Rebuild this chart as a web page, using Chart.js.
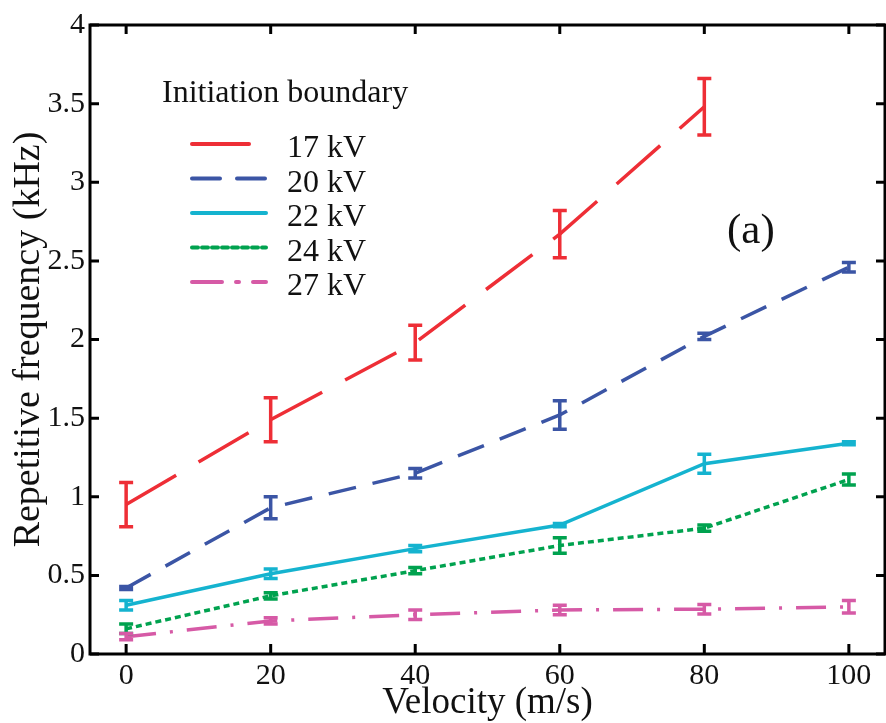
<!DOCTYPE html>
<html>
<head>
<meta charset="utf-8">
<script src="https://cdn.jsdelivr.net/npm/chart.js@4.4.1/dist/chart.umd.min.js"></script>
<style>
  html, body { margin: 0; padding: 0; background: #fff; }
  #wrap { width: 886px; height: 723px; }
</style>
</head>
<body>
<div id="wrap"><canvas id="freqChart"></canvas></div>
<script>
// Values
const velocity = [0, 20, 40, 60, 80, 100];
const xTicks = [0, 20, 40, 60, 80, 100];
const yTicks = [0, 0.5, 1, 1.5, 2, 2.5, 3, 3.5, 4];

const f17 = [0.95, 1.49, 1.98, 2.67, 3.48, null];
const e17 = [0.14, 0.14, 0.11, 0.15, 0.18, null];
const f20 = [0.42, 0.93, 1.15, 1.52, 2.02, 2.46];
const e20 = [0.01, 0.07, 0.03, 0.09, 0.02, 0.03];
const f22 = [0.31, 0.51, 0.67, 0.82, 1.21, 1.34];
const e22 = [0.03, 0.03, 0.02, 0.01, 0.06, 0.01];
const f24 = [0.16, 0.37, 0.53, 0.69, 0.80, 1.11];
const e24 = [0.03, 0.02, 0.02, 0.05, 0.02, 0.035];
const f27 = [0.11, 0.21, 0.25, 0.28, 0.285, 0.30];
const e27 = [0.02, 0.02, 0.03, 0.03, 0.03, 0.04];

const seriesLabels = ['17 kV', '20 kV', '22 kV', '24 kV', '27 kV'];
const legendTitle = 'Initiation boundary';
const panelLabel = '(a)';

const serif = '"Liberation Serif", "Times New Roman", serif';

function pts(vals) {
    return velocity.map((v, i) => ({ x: v, y: vals[i] }));
}

const styles = [
    { color: '#ee2e36', dash: [58, 26] },
    { color: '#3b55a5', dash: [28, 17] },
    { color: '#15b3cf', dash: [] },
    { color: '#00a24f', dash: [6, 4] },
    { color: '#d65aa6', dash: [30, 14, 3, 14] }
];
const values = [f17, f20, f22, f24, f27];
const errors = [e17, e20, e22, e24, e27];

const datasets = values.map((vals, i) => ({
    label: seriesLabels[i],
    data: pts(vals),
    errors: errors[i],
    borderColor: styles[i].color,
    backgroundColor: styles[i].color,
    borderDash: styles[i].dash,
    borderWidth: 3.5,
    pointRadius: 0,
    tension: 0,
    spanGaps: false
}));

// error bars, frame, inward ticks, legend and panel label
const decorations = {
    id: 'decorations',
    afterDatasetsDraw(chart) {
        const ctx = chart.ctx;
        const xs = chart.scales.x, ys = chart.scales.y;
        ctx.save();
        chart.data.datasets.forEach(ds => {
            ctx.strokeStyle = ds.borderColor;
            ctx.lineWidth = 3.5;
            ctx.setLineDash([]);
            ds.data.forEach((p, i) => {
                const e = ds.errors[i];
                if (p.y == null || e == null) return;
                const px = xs.getPixelForValue(p.x);
                const top = ys.getPixelForValue(p.y + e);
                const bot = ys.getPixelForValue(p.y - e);
                ctx.beginPath();
                ctx.moveTo(px, top); ctx.lineTo(px, bot);
                ctx.moveTo(px - 7, top); ctx.lineTo(px + 7, top);
                ctx.moveTo(px - 7, bot); ctx.lineTo(px + 7, bot);
                ctx.stroke();
            });
        });
        ctx.restore();
    },
    afterDraw(chart) {
        const ctx = chart.ctx;
        const a = chart.chartArea;
        const xs = chart.scales.x, ys = chart.scales.y;
        ctx.save();
        ctx.strokeStyle = '#000';
        ctx.lineWidth = 3;
        ctx.setLineDash([]);
        ctx.strokeRect(a.left, a.top, a.right - a.left, a.bottom - a.top);
        ctx.beginPath();
        xTicks.forEach(v => {
            const px = xs.getPixelForValue(v);
            ctx.moveTo(px, a.bottom); ctx.lineTo(px, a.bottom - 10);
            ctx.moveTo(px, a.top); ctx.lineTo(px, a.top + 9);
        });
        yTicks.forEach(v => {
            const py = ys.getPixelForValue(v);
            ctx.moveTo(a.left, py); ctx.lineTo(a.left + 9, py);
            ctx.moveTo(a.right, py); ctx.lineTo(a.right - 9, py);
        });
        ctx.stroke();

        // legend
        ctx.fillStyle = '#111';
        ctx.font = '32px ' + serif;
        ctx.textAlign = 'left';
        ctx.textBaseline = 'alphabetic';
        ctx.fillText(legendTitle, a.left + 72, 102);
        chart.data.datasets.forEach((ds, i) => {
            const y = 144 + i * 34.5;
            ctx.strokeStyle = ds.borderColor;
            ctx.lineWidth = 4;
            ctx.lineCap = 'round';
            ctx.setLineDash(ds.borderDash);
            ctx.beginPath();
            ctx.moveTo(a.left + 102, y);
            ctx.lineTo(a.left + (i === 0 ? 159 : 176), y);
            ctx.stroke();
            ctx.setLineDash([]);
            ctx.fillText(ds.label, a.left + 197, y + 13);
        });

        ctx.font = '43px ' + serif;
        ctx.fillText(panelLabel, 727, 243);
        ctx.restore();
    }
};

new Chart(document.getElementById('freqChart'), {
    type: 'line',
    data: { datasets: datasets },
    options: {
        responsive: true,
        maintainAspectRatio: false,
        animation: false,
        layout: { padding: { top: 25, right: 1, left: 0, bottom: 0 } },
        plugins: {
            legend: { display: false },
            tooltip: { enabled: false }
        },
        scales: {
            x: {
                type: 'linear',
                min: -5,
                max: 105,
                afterBuildTicks: s => { s.ticks = xTicks.map(v => ({ value: v })); },
                afterFit: s => { s.height = 69; },
                grid: { display: false, drawTicks: false },
                border: { display: false },
                ticks: {
                    color: '#111',
                    padding: 4,
                    font: { family: serif, size: 30 },
                    callback: v => String(v)
                },
                title: {
                    display: true,
                    text: 'Velocity (m/s)',
                    color: '#111',
                    padding: 0,
                    font: { family: serif, size: 37, lineHeight: 1.05 }
                }
            },
            y: {
                min: 0,
                max: 4,
                afterBuildTicks: s => { s.ticks = yTicks.map(v => ({ value: v })); },
                afterFit: s => { s.width = 90; },
                grid: { display: false, drawTicks: false },
                border: { display: false },
                ticks: {
                    color: '#111',
                    padding: 5,
                    font: { family: serif, size: 30 },
                    callback: v => String(v)
                },
                title: {
                    display: true,
                    text: 'Repetitive frequency (kHz)',
                    color: '#111',
                    padding: { top: 8, bottom: 0 },
                    font: { family: serif, size: 38, lineHeight: 1.1 }
                }
            }
        }
    },
    plugins: [decorations]
});
</script>
</body>
</html>
